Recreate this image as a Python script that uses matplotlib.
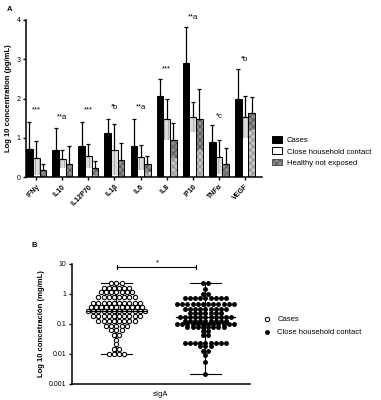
import numpy as np
import matplotlib
matplotlib.use('Agg')
import matplotlib.pyplot as plt
from matplotlib.patches import Patch
from matplotlib.lines import Line2D

plt.rcParams['font.family'] = ['Liberation Sans', 'DejaVu Sans']
plt.rcParams['hatch.linewidth'] = 0.6

# ---------------- panel A data (log10 pg/mL, mean and top of error bar)
cytokines    = ['IFNγ', 'IL10', 'IL12P70', 'IL1β', 'IL6', 'IL8', 'IP10', 'TNFα', 'VEGF']
cases_mean   = [0.72, 0.69, 0.79, 1.11, 0.79, 2.07, 2.91, 0.90, 1.98]
cases_top    = [1.40, 1.25, 1.40, 1.49, 1.49, 2.49, 3.82, 1.32, 2.76]
close_mean   = [0.48, 0.46, 0.54, 0.70, 0.50, 1.47, 1.53, 0.50, 1.53]
close_top    = [0.92, 0.70, 0.84, 1.34, 0.82, 1.99, 1.92, 0.93, 2.06]
healthy_mean = [0.17, 0.33, 0.23, 0.44, 0.33, 0.93, 1.47, 0.32, 1.62]
healthy_top  = [0.33, 0.80, 0.42, 0.86, 0.54, 1.37, 2.24, 0.73, 2.03]
signif       = ['***', '**a', '***', '*b', '**a', '***', '**a', '*c', '*b']
signif_y     = [1.70, 1.52, 1.70, 1.78, 1.78, 2.75, 4.07, 1.53, 3.00]

# ---------------- panel B data (sIgA, mg/mL), read row by row from the swarm
cases_siga = [2.4, 2.4, 2.4,
              1.58, 1.58, 1.58, 1.58, 1.58, 1.58,
              1.17, 1.17, 1.17, 1.17, 1.17, 1.17, 1.17,
              0.77, 0.77, 0.77, 0.77, 0.77, 0.77, 0.77, 0.77,
              0.50, 0.50, 0.50, 0.50, 0.50, 0.50, 0.50, 0.50, 0.50, 0.50,
              0.36, 0.36, 0.36, 0.36, 0.36, 0.36, 0.36, 0.36, 0.36, 0.36, 0.36,
              0.27, 0.27, 0.27, 0.27, 0.27, 0.27, 0.27, 0.27, 0.27, 0.27, 0.27, 0.27,
              0.19, 0.19, 0.19, 0.19, 0.19, 0.19, 0.19, 0.19, 0.19, 0.19,
              0.13, 0.13, 0.13, 0.13, 0.13, 0.13, 0.13, 0.13,
              0.088, 0.088, 0.088, 0.088, 0.088,
              0.065, 0.065, 0.065,
              0.044, 0.044,
              0.030, 0.021,
              0.0148, 0.0148,
              0.0102, 0.0102, 0.0102, 0.0102]
close_siga = [2.4, 2.4,
              1.47,
              1.0, 1.0,
              0.74, 0.74, 0.74, 0.74, 0.74, 0.74, 0.74, 0.74, 0.74,
              0.46, 0.46, 0.46, 0.46, 0.46, 0.46, 0.46, 0.46, 0.46, 0.46, 0.46, 0.46,
              0.32, 0.32, 0.32, 0.32, 0.32, 0.32, 0.32, 0.32, 0.32,
              0.23, 0.23, 0.23, 0.23, 0.23, 0.23, 0.23,
              0.17, 0.17, 0.17, 0.17, 0.17, 0.17, 0.17, 0.17, 0.17, 0.17, 0.17,
              0.13, 0.13, 0.13, 0.13, 0.13, 0.13, 0.13, 0.13, 0.13,
              0.102, 0.102, 0.102, 0.102, 0.102, 0.102, 0.102, 0.102, 0.102, 0.102, 0.102, 0.102,
              0.079, 0.079, 0.079, 0.079, 0.079, 0.079, 0.079, 0.079,
              0.060, 0.060,
              0.044, 0.044,
              0.023, 0.023, 0.023, 0.023, 0.023, 0.023, 0.023, 0.023, 0.023,
              0.018, 0.018, 0.018,
              0.0124, 0.0124,
              0.0095, 0.0054, 0.0021]


def swarm_x(vals, center, step):
    """spread equal values side by side around the group centre"""
    vals = np.asarray(vals)
    xs = np.zeros(len(vals))
    for v in np.unique(vals):
        idx = np.where(vals == v)[0]
        n = len(idx)
        xs[idx] = center + (np.arange(n) - (n - 1) / 2.0) * step
    return xs


fig = plt.figure(figsize=(3.81, 4.0), dpi=100)

# ================= A =================
axA = fig.add_axes([0.0682, 0.5575, 0.6186, 0.3925])
x = np.arange(len(cytokines))
w = 0.256
groups = [(cases_mean, cases_top, -w), (close_mean, close_top, 0.0), (healthy_mean, healthy_top, w)]
for k, (m, t, off) in enumerate(groups):
    m = np.array(m)
    t = np.array(t)
    low = np.clip(2 * m - t, 0, None)
    if k == 0:
        axA.bar(x + off, m, w, color='black', edgecolor='black', linewidth=0.7, zorder=2)
    elif k == 1:
        axA.bar(x + off, m, w, color='white', edgecolor='none', zorder=2)
        axA.bar(x + off, m - low, w, bottom=low, color='#dcdcdc', edgecolor='#a0a0a0',
                hatch='||||', linewidth=0, zorder=2)
        axA.bar(x + off, m, w, fill=False, edgecolor='black', linewidth=0.7, zorder=3)
    else:
        axA.bar(x + off, m, w, color='#c4c4c4', edgecolor='#8a8a8a', hatch='xxxxx',
                linewidth=0, zorder=2)
        axA.bar(x + off, m - low, w, bottom=low, color='#8c8c8c', edgecolor='#505050',
                hatch='xxxxx', linewidth=0, zorder=2)
        axA.bar(x + off, m, w, fill=False, edgecolor='black', linewidth=0.7, zorder=3)
    axA.errorbar(x + off, m, yerr=[np.zeros(len(m)), t - m], fmt='none', ecolor='black',
                 elinewidth=0.9, capsize=1.6, capthick=0.9, zorder=4)

for i, s in enumerate(signif):
    axA.text(x[i], signif_y[i], s, ha='center', va='center', fontsize=5.5)

axA.set_xlim(-0.39, 8.64)
axA.set_ylim(0, 4)
axA.set_yticks([0, 1, 2, 3, 4])
axA.set_xticks(x)
axA.set_xticklabels(cytokines, rotation=45, ha='right', rotation_mode='anchor',
                    fontsize=5, fontweight='bold')
axA.tick_params(axis='y', labelsize=5, length=2.5, width=1, pad=1.5)
axA.tick_params(axis='x', length=2.5, width=1, pad=2)
axA.spines['top'].set_visible(False)
axA.spines['right'].set_visible(False)
axA.spines['left'].set_linewidth(1.1)
axA.spines['bottom'].set_linewidth(1.1)
axA.set_ylabel('Log 10 concentration (pg/mL)', fontsize=5.5, fontweight='bold', labelpad=3)

handles = [Patch(facecolor='black', edgecolor='black', linewidth=0.7),
           Patch(facecolor='white', edgecolor='black', linewidth=0.7),
           Patch(facecolor='#8c8c8c', edgecolor='#505050', hatch='xxxxx', linewidth=0.7)]
fig.legend(handles, ['Cases', 'Close household contact', 'Healthy not exposed'],
           loc='upper left', bbox_to_anchor=(0.713, 0.659), frameon=False, fontsize=5.5,
           handlelength=1.4, handleheight=1.0, handletextpad=0.55, labelspacing=0.4,
           borderaxespad=0, borderpad=0)

fig.text(0.018, 0.985, 'A', fontsize=5.5, fontweight='bold', va='top')

# ================= B =================
axB = fig.add_axes([0.189, 0.04, 0.467, 0.30])
cx = swarm_x(cases_siga, 0.0, 0.058)
dx = swarm_x(close_siga, 1.0, 0.058)
axB.plot(cx, cases_siga, 'o', ms=3.1, mfc='white', mec='black', mew=0.75, zorder=3, ls='none')
axB.plot(dx, close_siga, 'o', ms=2.5, mfc='black', mec='black', zorder=3, ls='none')

for pos, vals in [(0.0, cases_siga), (1.0, close_siga)]:
    lo, hi, med = np.min(vals), np.max(vals), np.median(vals)
    axB.plot([pos, pos], [lo, hi], color='black', lw=0.8, zorder=2)
    axB.plot([pos - 0.17, pos + 0.17], [lo, lo], color='black', lw=0.8, zorder=2)
    axB.plot([pos - 0.17, pos + 0.17], [hi, hi], color='black', lw=0.8, zorder=2)
    axB.plot([pos - 0.33, pos + 0.33], [med, med], color='black', lw=0.9, zorder=4)

# significance bracket
axB.plot([0.01, 0.89], [7.7, 7.7], color='black', lw=0.8)
axB.plot([0.01, 0.01], [6.6, 9.0], color='black', lw=0.8)
axB.plot([0.89, 0.89], [6.6, 9.0], color='black', lw=0.8)
axB.text(0.455, 10.5, '*', ha='center', va='center', fontsize=5.5)

axB.set_yscale('log')
axB.set_ylim(0.001, 10)
axB.set_xlim(-0.5, 1.5)
axB.set_yticks([0.001, 0.01, 0.1, 1, 10])
axB.set_yticklabels(['0.001', '0.01', '0.1', '1', '10'])
axB.yaxis.set_minor_locator(matplotlib.ticker.NullLocator())
axB.set_xticks([0.5])
axB.set_xticklabels(['sIgA'])
axB.tick_params(axis='y', labelsize=5, length=2.5, width=1, pad=1.5)
axB.tick_params(axis='x', labelsize=5.5, length=0, pad=5)
axB.spines['top'].set_visible(False)
axB.spines['right'].set_visible(False)
axB.spines['left'].set_linewidth(1.1)
axB.spines['bottom'].set_linewidth(1.1)
axB.set_ylabel('Log 10 concetración (mg/mL)', fontsize=5.5, fontweight='bold', labelpad=3)

bh = [Line2D([], [], marker='o', ls='none', ms=3.1, mfc='white', mec='black', mew=0.75),
      Line2D([], [], marker='o', ls='none', ms=2.5, mfc='black', mec='black')]
fig.legend(bh, ['Cases', 'Close household contact'], loc='upper left',
           bbox_to_anchor=(0.69, 0.21), frameon=False, fontsize=5.5, handlelength=1.0,
           handletextpad=0.9, labelspacing=0.75, borderaxespad=0, borderpad=0)

fig.text(0.083, 0.395, 'B', fontsize=5.5, fontweight='bold', va='top')

fig.savefig('out.png', dpi=100)
